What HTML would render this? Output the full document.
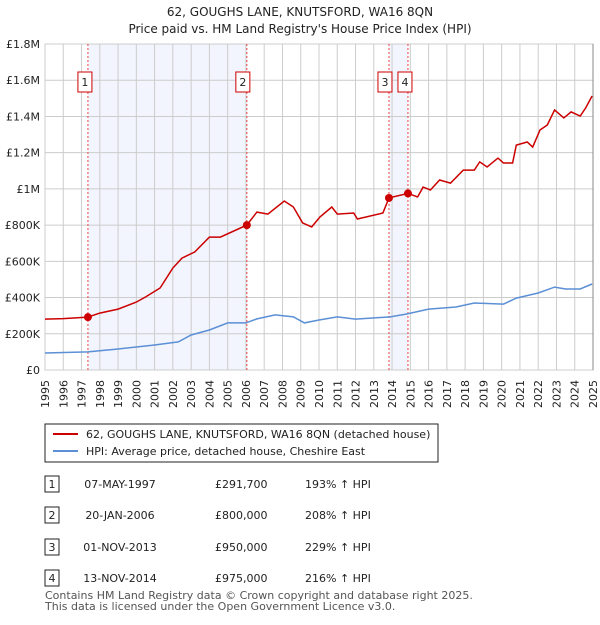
<!DOCTYPE html>
<html><head><meta charset="utf-8"><style>
body{margin:0;background:#fff;font-family:"Liberation Sans","DejaVu Sans",sans-serif;}
svg text{font-family:"DejaVu Sans","Liberation Sans",sans-serif;}
</style></head><body>
<svg id="c" width="600" height="620" viewBox="0 0 600 620" xmlns="http://www.w3.org/2000/svg">
<text x="300" y="16" text-anchor="middle" font-size="12" fill="#222">62, GOUGHS LANE, KNUTSFORD, WA16 8QN</text>
<text x="300" y="33" text-anchor="middle" font-size="12" fill="#222">Price paid vs. HM Land Registry's House Price Index (HPI)</text>
<g id="plot"></g>
<g>
<rect x="45" y="424" width="393" height="38" fill="#fff" stroke="#222" stroke-width="1"/>
<line x1="53" y1="434" x2="78" y2="434" stroke="#cc0000" stroke-width="2"/>
<text x="86" y="438" font-size="11" fill="#222">62, GOUGHS LANE, KNUTSFORD, WA16 8QN (detached house)</text>
<line x1="53" y1="451" x2="78" y2="451" stroke="#5b8fd6" stroke-width="2"/>
<text x="86" y="455" font-size="11" fill="#222">HPI: Average price, detached house, Cheshire East</text>
</g>
<g id="tbl" font-size="11" fill="#222"></g>
<text x="45" y="599" font-size="11" fill="#555">Contains HM Land Registry data © Crown copyright and database right 2025.</text>
<text x="45" y="610" font-size="11" fill="#555">This data is licensed under the Open Government Licence v3.0.</text>
</svg>
<script>
const redYears=[1995,1996,1997.35,1998,1999,2000,2000.5,2001.3,2002,2002.5,2003.2,2004,2004.6,2006.05,2006.6,2007.2,2008.1,2008.6,2009.1,2009.6,2010.05,2010.7,2011,2011.9,2012.1,2013.5,2013.83,2014.87,2015.4,2015.7,2016.1,2016.6,2017.2,2017.9,2018.5,2018.8,2019.2,2019.8,2020.1,2020.6,2020.8,2021.4,2021.7,2022.1,2022.5,2022.9,2023.4,2023.8,2024.3,2024.6,2024.95];
const redValues=[281,284,292,314,336,375,403,453,563,618,652,734,734,800,872,861,933,900,812,790,845,900,861,867,834,867,950,975,955,1010,994,1049,1032,1104,1104,1149,1121,1170,1143,1143,1242,1259,1231,1325,1353,1436,1392,1425,1402,1447,1513];
const hpiYears=[1995,1997.35,1999,2001,2002.3,2003,2004,2005,2006,2006.6,2007.6,2008.6,2009.2,2010,2011,2012,2013.9,2014.8,2016,2017.5,2018.5,2020.1,2020.8,2022,2022.9,2023.5,2024.3,2024.95];
const hpiValues=[94,100,116,138,155,193,221,260,260,282,304,293,260,276,293,281,293,309,336,348,370,364,397,425,458,447,447,475];
const saleLabels=["1","2","3","4"];
const saleYears=[1997.35,2006.05,2013.83,2014.87];
const saleValues=[291.7,800,950,975];
const saleDates=["07-MAY-1997","20-JAN-2006","01-NOV-2013","13-NOV-2014"];
const salePrices=["£291,700","£800,000","£950,000","£975,000"];
const saleHpi=["193% ↑ HPI","208% ↑ HPI","229% ↑ HPI","216% ↑ HPI"];
const yTicks=[0,200,400,600,800,1000,1200,1400,1600,1800];
const yTickLabels=["£0","£200K","£400K","£600K","£800K","£1M","£1.2M","£1.4M","£1.6M","£1.8M"];
const shadePairs=[[0,1],[2,3]];

const NS="http://www.w3.org/2000/svg";
const X0=45,X1=593,Y0=370,Y1=44;
const xs=y=>X0+(y-1995)/30*(X1-X0);
const ys=v=>Y0-v/1800*(Y0-Y1);
function mk(t,a,p){const e=document.createElementNS(NS,t);for(const k in a)e.setAttribute(k,a[k]);(p||plot).appendChild(e);return e;}
const plot=document.getElementById('plot');
mk('rect',{x:X0,y:Y1,width:X1-X0,height:Y0-Y1,fill:'#fff',stroke:'#ccc'});
shadePairs.forEach(p=>{const r=mk('rect',{x:xs(saleYears[p[0]]),y:Y1,width:xs(saleYears[p[1]])-xs(saleYears[p[0]]),height:Y0-Y1,fill:'#f2f5fd'});

});
for(let y=1995;y<=2025;y++){mk('line',{x1:xs(y),x2:xs(y),y1:Y1,y2:Y0,stroke:'#ccc','stroke-width':1});
const t=mk('text',{x:xs(y)+4,y:380,'font-size':11,fill:'#222','text-anchor':'end',transform:`rotate(-90 ${xs(y)+4} 380)`});
t.textContent=y;

}
yTicks.forEach((v,i)=>{mk('line',{x1:X0,x2:X1,y1:ys(v),y2:ys(v),stroke:'#ccc','stroke-width':1});
const t=mk('text',{x:40,y:ys(v)+4,'font-size':11,fill:'#222','text-anchor':'end'});t.textContent=yTickLabels[i];

});
mk('line',{x1:X1,x2:X1,y1:Y1,y2:Y0,stroke:'#888','stroke-width':1});
const boxOff=[-10,-11,-11,-10];
saleYears.forEach((y,i)=>{const l=mk('line',{x1:xs(y),x2:xs(y),y1:Y1,y2:Y0,stroke:'#ee4444','stroke-width':1,'stroke-dasharray':'2,2'});


const bx=xs(y)+boxOff[i];
const r=mk('rect',{x:bx,y:72,width:14,height:20,fill:'#fff',stroke:'#cc0000'});


const t=mk('text',{x:bx+7,y:86,'font-size':11,fill:'#222','text-anchor':'middle'});t.textContent=saleLabels[i];});
function line(xa,va,col,name){const d=xa.map((x,i)=>(i?'L':'M')+xs(x).toFixed(1)+','+ys(va[i]).toFixed(1)).join('');
const p=mk('path',{d:d,fill:'none',stroke:col,'stroke-width':1.5});

}
line(hpiYears,hpiValues,'#5b8fd6','hpi-line');
line(redYears,redValues,'#cc0000','price-paid-line');
saleYears.forEach((y,i)=>{const c=mk('circle',{cx:xs(y),cy:ys(saleValues[i]),r:4,fill:'#cc0000'});

});
const tbl=document.getElementById('tbl');
const rowY=[487,518,550,581];
saleLabels.forEach((s,i)=>{const y=rowY[i];
const r=mk('rect',{x:45,y:y-11,width:14,height:16,fill:'#fff',stroke:'#222'},tbl);


const cells=[[52,s,'middle'],[120,saleDates[i],'middle'],[215,salePrices[i],'start'],[305,saleHpi[i],'start']];
cells.forEach(c=>{const t=mk('text',{x:c[0],y:y+1,'text-anchor':c[2]},tbl);t.textContent=c[1];

});});
</script>
</body></html>
